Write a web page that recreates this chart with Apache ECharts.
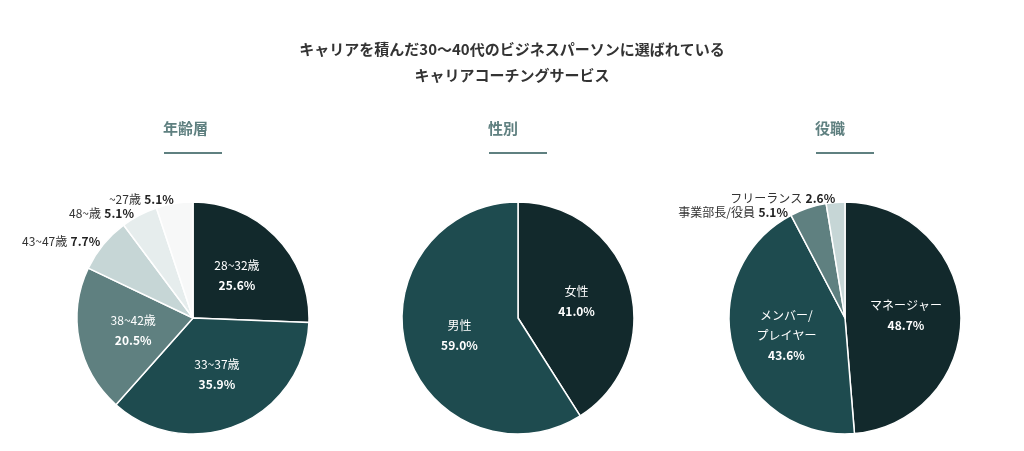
<!DOCTYPE html>
<html><head><meta charset="utf-8">
<script src="https://cdn.jsdelivr.net/npm/echarts@6/dist/echarts.min.js"></script>
<style>html,body{margin:0;background:#fff}#c{width:1024px;height:451px}</style>
</head><body><div id="c"></div>
<script>
var ageNames = ['28~32歳', '33~37歳', '38~42歳', '43~47歳', '48~歳', '~27歳'];
var ageValues = [25.6, 35.9, 20.5, 7.7, 5.1, 5.1];
var genderNames = ['女性', '男性'];
var genderValues = [41.0, 59.0];
var roleNames = ['マネージャー', 'メンバー/\nプレイヤー', '事業部長/役員', 'フリーランス'];
var roleValues = [48.7, 43.6, 5.1, 2.6];
var ageColors = ['#12292c', '#1e4b4f', '#5f8080', '#c6d6d6', '#e6eded', '#f7f8f8'];
var genderColors = ['#12292c', '#1e4b4f'];
var roleColors = ['#12292c', '#1e4b4f', '#5f8080', '#c6d6d6'];
var FONT = '"Noto Sans CJK JP", "Noto Sans", sans-serif';

var chart = echarts.init(document.getElementById('c'));

function makeData(names, values, colors, outsideCount){
    var data = [];
    for (var i = 0; i < names.length; i++) {
        var outside = i >= names.length - outsideCount;
        data.push({
            name: names[i], value: values[i],
            itemStyle: {color: colors[i]},
            label: outside ? {
                position: 'outside', distanceToLabelLine: 0,
                formatter: '{n|{b}} {o|{c}%}'
            } : {
                position: 'inside',
                formatter: function(p){ return '{w|' + p.name + '}\n{b|' + p.value.toFixed(1) + '%}'; }
            },
            labelLine: {show: false, length: 4, length2: 0}
        });
    }
    return data;
}

var rich = {
    w: {color: '#fff', fontSize: 12, lineHeight: 20, fontFamily: FONT, align: 'center'},
    b: {color: '#fff', fontSize: 12, fontWeight: 'bold', lineHeight: 20, fontFamily: FONT, align: 'center'},
    n: {color: '#333', fontSize: 12, fontFamily: FONT},
    o: {color: '#222', fontSize: 12, fontWeight: 'bold', fontFamily: FONT}
};

function pie(cx, data){
    return {
        type: 'pie', center: [cx, 318], radius: [0, 116], startAngle: 90,
        clockwise: true, silent: true, animation: false,
        itemStyle: {borderColor: '#fff', borderWidth: 1.5},
        label: {rich: rich}, labelLine: {show: false},
        data: data
    };
}

function header(cx, text){
    return [
        {type: 'text', left: cx - 30, top: 121, style: {text: text, fill: '#5f8080', font: 'bold 15px ' + FONT, textAlign: 'center', width: 60}},
        {type: 'rect', shape: {x: cx - 29, y: 152, width: 58, height: 2}, style: {fill: '#5f8080'}}
    ];
}

var ageData = makeData(ageNames, ageValues, ageColors, 3);
ageData[0].label.formatter = function(p){ return '{w|' + p.name + '}\n{b|' + p.value.toFixed(1) + '%}'; };

chart.setOption({
    backgroundColor: '#fff',
    title: {
        text: 'キャリアを積んだ30～40代のビジネスパーソンに選ばれている\nキャリアコーチングサービス',
        left: 'center', top: 31,
        textStyle: {color: '#333', fontSize: 15, fontWeight: 'bold', lineHeight: 26, fontFamily: FONT}
    },
    graphic: [].concat(header(193, '年齢層'), header(518, '性別'), header(845, '役職')),
    series: [
        pie(193, ageData),
        pie(518, makeData(genderNames, genderValues, genderColors, 0)),
        pie(845, makeData(roleNames, roleValues, roleColors, 2))
    ]
});
</script></body></html>
